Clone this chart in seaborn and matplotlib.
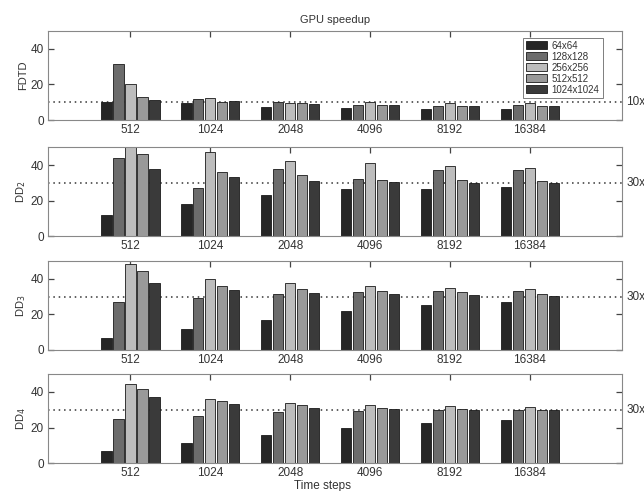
import pandas as pd
import numpy as np
import matplotlib
matplotlib.use("Agg")
import matplotlib.pyplot as plt
import matplotlib.transforms as mtransforms
import seaborn as sns

# time steps (x categories) and grid sizes (hue)
steps = ["512", "1024", "2048", "4096", "8192", "16384"]
grids = ["64x64", "128x128", "256x256", "512x512", "1024x1024"]

# speedup per time step, one list per grid size
fdtd = {
    "64x64":     [10.0, 9.5, 7.5, 6.5, 6.2, 6.2],
    "128x128":   [31.5, 12.0, 10.0, 8.5, 8.0, 8.5],
    "256x256":   [20.0, 12.5, 9.5, 10.0, 9.5, 9.5],
    "512x512":   [13.0, 10.0, 9.5, 8.5, 8.0, 8.0],
    "1024x1024": [11.5, 10.5, 9.0, 8.5, 8.0, 8.0],
}
dd2 = {
    "64x64":     [12.0, 18.0, 23.0, 26.5, 26.5, 27.5],
    "128x128":   [44.0, 27.0, 37.5, 32.0, 37.0, 37.0],
    "256x256":   [52.0, 47.5, 42.5, 41.0, 39.5, 38.5],
    "512x512":   [46.0, 36.0, 34.5, 31.5, 31.5, 31.0],
    "1024x1024": [37.5, 33.0, 31.0, 30.5, 30.0, 30.0],
}
dd3 = {
    "64x64":     [7.0, 12.0, 17.0, 22.0, 25.5, 27.0],
    "128x128":   [27.0, 29.0, 31.5, 32.5, 33.0, 33.0],
    "256x256":   [48.5, 40.0, 38.0, 36.0, 35.0, 34.5],
    "512x512":   [44.5, 36.0, 34.5, 33.0, 32.5, 31.5],
    "1024x1024": [38.0, 34.0, 32.0, 31.5, 31.0, 30.5],
}
dd4 = {
    "64x64":     [6.5, 11.0, 15.5, 19.5, 22.5, 24.0],
    "128x128":   [25.0, 26.5, 28.5, 29.5, 30.0, 30.0],
    "256x256":   [44.5, 36.0, 34.0, 32.5, 32.0, 31.5],
    "512x512":   [41.5, 35.0, 32.5, 31.0, 30.5, 30.0],
    "1024x1024": [37.0, 33.0, 31.0, 30.5, 30.0, 30.0],
}

panels = [("FDTD", fdtd, 10), ("DD$_2$", dd2, 30), ("DD$_3$", dd3, 30), ("DD$_4$", dd4, 30)]
colors = ["#262626", "#6c6c6c", "#bdbdbd", "#999999", "#3a3a3a"]

sns.set_style("white")
plt.rcParams["font.family"] = ["Liberation Sans", "DejaVu Sans"]
plt.rcParams["text.color"] = "#333333"
plt.rcParams["axes.labelcolor"] = "#333333"
plt.rcParams["xtick.color"] = "#333333"
plt.rcParams["ytick.color"] = "#333333"

fig = plt.figure(figsize=(6.44, 4.91), dpi=100)

bottoms = [0.7556, 0.5193, 0.2872, 0.057]
h = 0.1808

for i, (name, d, ref) in enumerate(panels):
    ax = fig.add_axes([0.0745, bottoms[i], 0.891, h])
    rows = []
    for g in grids:
        for s, v in zip(steps, d[g]):
            rows.append({"step": s, "grid": g, "speedup": v})
    df = pd.DataFrame(rows)
    sns.barplot(data=df, x="step", y="speedup", hue="grid", order=steps,
                hue_order=grids, palette=colors, width=0.75, gap=0.12,
                edgecolor="#1a1a1a", linewidth=0.6, saturation=1,
                legend=(i == 0), ax=ax)
    ax.set_xlim(-1.03, 6.15)
    ax.set_ylim(0, 50)
    ax.set_yticks([0, 20, 40])
    ax.set_xlabel("")
    ax.set_ylabel(name, fontsize=8, labelpad=2)
    ax.tick_params(axis="both", which="major", direction="in", length=4.5,
                   width=0.9, labelsize=8.5, bottom=True, left=True,
                   top=True, right=True, pad=3, color="#444444")
    for sp in ax.spines.values():
        sp.set_color("#888888")
        sp.set_linewidth(0.8)
    ax.axhline(ref, ls=(0, (1, 2.5)), color="#333333", lw=1.1, zorder=0.5)
    tr = mtransforms.blended_transform_factory(ax.transAxes, ax.transData)
    ax.text(1.008, ref, f"{ref}x", transform=tr, va="center", ha="left",
            fontsize=8.5, clip_on=False)
    if i == 0:
        ax.set_title("GPU speedup", fontsize=8, pad=6)
        leg = ax.legend(loc="upper right", fontsize=7, frameon=True,
                        fancybox=False, handlelength=2.2, handleheight=0.9,
                        borderpad=0.3, labelspacing=0.1, handletextpad=0.5,
                        bbox_to_anchor=(0.975, 0.98))
        leg.get_frame().set_edgecolor("#444444")
        leg.get_frame().set_linewidth(0.6)

fig.text(0.5, -0.002, "Time steps", ha="center", va="bottom", fontsize=8.5)

fig.savefig("out.png", dpi=100)
